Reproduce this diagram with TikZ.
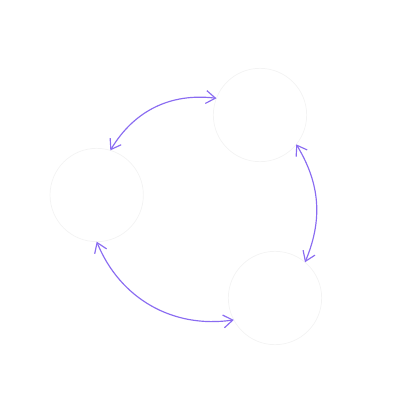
\documentclass[tikz,border=0pt]{standalone}
\usetikzlibrary{arrows.meta}

\definecolor{ringgray}{HTML}{F3F3F3}
\definecolor{linkpurple}{HTML}{8A6CF1}

\begin{document}
\begin{tikzpicture}[x=0.03cm, y=0.03cm,
	ring/.style={circle, draw=ringgray, line width=0.6pt, minimum size=2.8cm, inner sep=0pt, outer sep=0pt},
	link/.style={draw=linkpurple, line width=1pt, {Straight Barb[length=8pt,width=11pt]}-{Straight Barb[length=8pt,width=11pt]}}]
	\useasboundingbox (0,0) rectangle (417,-419);
	\node [ring] (left) at (96.7,-195) {};
	\node [ring] (top) at (260,-115) {};
	\node [ring] (bottom) at (275,-298) {};
	\draw [link] (left.73) to[bend left=33] (top.159);
	\draw [link] (top.-39) to[bend left=27] (bottom.50);
	\draw [link] (left.-90) to[bend right=38] (bottom.208);
\end{tikzpicture}
\end{document}
